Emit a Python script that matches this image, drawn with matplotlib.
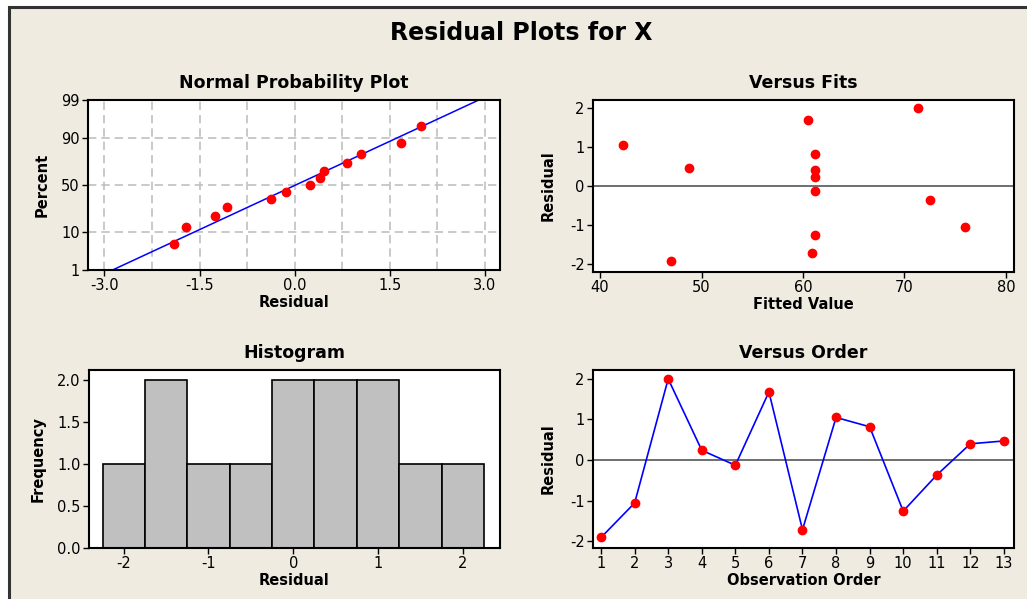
import matplotlib
matplotlib.use("Agg")
import matplotlib.pyplot as plt
from matplotlib.patches import Rectangle
from statistics import NormalDist
import numpy as np

# residuals in observation order, with the matching fitted values
order = list(range(1, 14))
residuals = [-1.91, -1.06, 2.00, 0.24, -0.13, 1.68, -1.72, 1.05, 0.82, -1.26, -0.37, 0.40, 0.47]
fitted = [47.0, 76.0, 71.3, 61.2, 61.2, 60.5, 60.85, 42.3, 61.2, 61.2, 72.5, 61.2, 48.75]
pct_ticks = [1, 10, 50, 90, 99]
bin_width = 0.5

bg = "#EFEBE1"
red = "#FF0000"
blue = "#0000FF"

plt.rcParams['font.family'] = ['DejaVu Sans']
plt.rcParams['axes.unicode_minus'] = False

fig = plt.figure(figsize=(10.27, 5.99), dpi=100)
fig.patch.set_facecolor("white")
# grey panel with the dark frame on top and left
fig.patches.append(Rectangle((9 / 1027, -0.05), 1.1, (599 - 7) / 599 + 0.05, transform=fig.transFigure,
                             facecolor=bg, edgecolor="#333333", linewidth=2.2, zorder=-5))

fig.text(0.508, 1 - 33 / 599, "Residual Plots for X", ha="center", va="center",
         fontsize=17, fontweight="bold")


def style(ax):
    ax.set_facecolor("white")
    for s in ax.spines.values():
        s.set_linewidth(1.5)
        s.set_color("black")
    ax.tick_params(direction="out", length=4, width=1, labelsize=10.5, pad=2)


def title(ax, txt):
    ax.set_title(txt, fontsize=12.5, fontweight="bold", pad=9)


ax1 = fig.add_axes([88 / 1027, 1 - 270 / 599, 412 / 1027, 170 / 599])
ax2 = fig.add_axes([593 / 1027, 1 - 272 / 599, 421 / 1027, 172 / 599])
ax3 = fig.add_axes([89 / 1027, 1 - 548 / 599, 411 / 1027, 178 / 599])
ax4 = fig.add_axes([593 / 1027, 1 - 548 / 599, 421 / 1027, 178 / 599])

# normal probability plot
nd = NormalDist()
n = len(residuals)
srt = np.sort(residuals)
z = [nd.inv_cdf((i + 1 - 0.3) / (n + 0.4)) for i in range(n)]
mu = np.mean(residuals)
sd = np.std(residuals, ddof=1)
zlo, zhi = nd.inv_cdf(0.01), nd.inv_cdf(0.99)
style(ax1)
for gx in np.arange(-3, 3.01, 0.75):
    ax1.axvline(gx, color="#C0C0C0", ls=(0, (5, 3)), lw=1.2, zorder=0)
for p in [10, 50, 90]:
    ax1.axhline(nd.inv_cdf(p / 100), color="#C0C0C0", ls=(0, (5, 3)), lw=1.2, zorder=0)
ax1.plot([mu + zlo * sd, mu + zhi * sd], [zlo, zhi], color=blue, lw=1.1, zorder=2)
ax1.plot(srt, z, "o", color=red, ms=6, zorder=3)
ax1.set_xlim(-3.26, 3.24)
ax1.set_ylim(zlo, zhi)
ax1.set_xticks([-3, -1.5, 0, 1.5, 3])
ax1.set_xticklabels(["-3.0", "-1.5", "0.0", "1.5", "3.0"])
ax1.set_yticks([nd.inv_cdf(p / 100) for p in pct_ticks])
ax1.set_yticklabels([str(p) for p in pct_ticks])
ax1.set_xlabel("Residual", fontsize=10.5, fontweight="bold", labelpad=1)
ax1.set_ylabel("Percent", fontsize=10.5, fontweight="bold", labelpad=8)
title(ax1, "Normal Probability Plot")

# versus fits
style(ax2)
ax2.axhline(0, color="#555555", lw=1.2, zorder=1)
ax2.plot(fitted, residuals, "o", color=red, ms=6, zorder=3)
ax2.set_xlim(39.3, 80.8)
ax2.set_ylim(-2.2, 2.2)
ax2.set_xticks([40, 50, 60, 70, 80])
ax2.set_yticks([-2, -1, 0, 1, 2])
ax2.set_xlabel("Fitted Value", fontsize=10.5, fontweight="bold", labelpad=1)
ax2.set_ylabel("Residual", fontsize=10.5, fontweight="bold", labelpad=10)
title(ax2, "Versus Fits")

# histogram
style(ax3)
edges = np.arange(-2.25, 2.26, bin_width)
ax3.hist(residuals, bins=edges, color="#C0C0C0", edgecolor="black", linewidth=1.2)
ax3.set_xlim(-2.41, 2.44)
ax3.set_ylim(0, 2.12)
ax3.set_xticks([-2, -1, 0, 1, 2])
ax3.set_yticks([0, 0.5, 1.0, 1.5, 2.0])
ax3.set_yticklabels(["0.0", "0.5", "1.0", "1.5", "2.0"])
ax3.set_xlabel("Residual", fontsize=10.5, fontweight="bold", labelpad=1)
ax3.set_ylabel("Frequency", fontsize=10.5, fontweight="bold", labelpad=8)
title(ax3, "Histogram")

# versus order
style(ax4)
ax4.axhline(0, color="#555555", lw=1.2, zorder=1)
ax4.plot(order, residuals, "-", color=blue, lw=1.2, zorder=2)
ax4.plot(order, residuals, "o", color=red, ms=6, zorder=3)
ax4.set_xlim(0.76, 13.3)
ax4.set_ylim(-2.17, 2.22)
ax4.set_xticks(order)
ax4.set_yticks([-2, -1, 0, 1, 2])
ax4.set_xlabel("Observation Order", fontsize=10.5, fontweight="bold", labelpad=1)
ax4.set_ylabel("Residual", fontsize=10.5, fontweight="bold", labelpad=10)
title(ax4, "Versus Order")

fig.savefig("out.png", dpi=100, facecolor=fig.get_facecolor())
